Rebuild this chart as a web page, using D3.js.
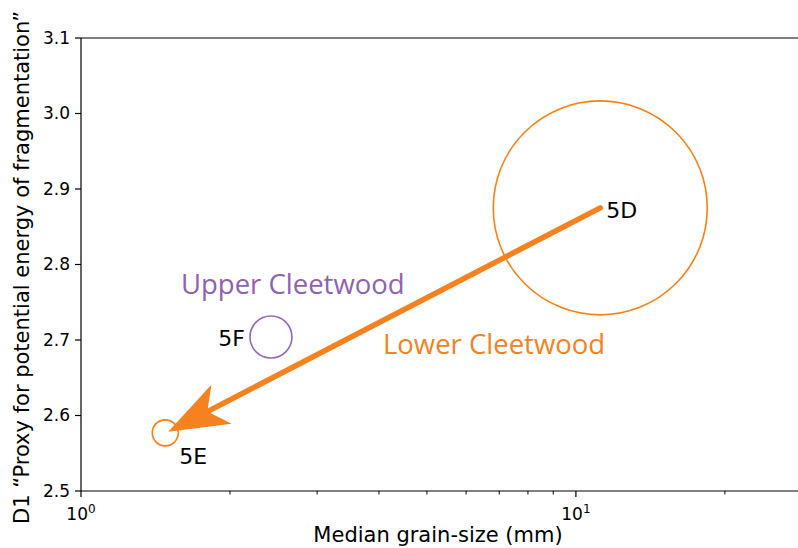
<!DOCTYPE html>
<html>
<head>
<meta charset="utf-8">
<script src="https://cdn.jsdelivr.net/npm/d3@7"></script>
<style>
  body { margin: 0; background: #fff; }
  svg { display: block; font-family: "DejaVu Sans", sans-serif; }
</style>
</head>
<body>
<svg id="chart" width="798" height="548"></svg>
<script>
// Samples: median grain size (mm), D1 value, marker size
const samples = ['5D', '5E', '5F'];
const grainSize = [11.2, 1.48, 2.42];
const d1 = [2.875, 2.577, 2.704];
const markerSize = [11450, 170, 440];
const sampleUnit = ['Lower', 'Lower', 'Upper'];
const yTicks = [2.5, 2.6, 2.7, 2.8, 2.9, 3.0, 3.1];
const xMajor = [1, 10];
const xMinor = [2, 3, 4, 5, 6, 7, 8, 9, 20];
const unitLabels = [
  {name: 'Upper Cleetwood', unit: 'Upper'},
  {name: 'Lower Cleetwood', unit: 'Lower'}
];

const colors = {Upper: '#9467bd', Lower: '#ff7f0e'};
const textColors = {Upper: '#8f62b3', Lower: '#f58220'};

(function() {
  const svg = d3.select('#chart');
  const margin = {top: 38, left: 81};
  const width = 720, height = 453;
  const g = svg.append('g').attr('transform', `translate(${margin.left},${margin.top})`);

  const x = d3.scaleLog().domain([1, 28.5]).range([0, width]);
  const y = d3.scaleLinear().domain([2.5, 3.1]).range([height, 0]);
  const r = d3.scaleSqrt().domain([0, d3.max(markerSize)]).range([0, 107]);

  const data = samples.map((s, i) => ({id: s, x: grainSize[i], y: d1[i], s: markerSize[i], unit: sampleUnit[i]}));

  // spines
  g.append('line').attr('x1', 0).attr('x2', width).attr('y1', 0).attr('y2', 0).attr('stroke', '#000').attr('stroke-width', 1.2);
  g.append('line').attr('x1', width).attr('x2', width).attr('y1', 0).attr('y2', height).attr('stroke', '#000').attr('stroke-width', 1.2);

  // y axis
  const ya = g.append('g');
  ya.append('line').attr('x1', 0).attr('x2', 0).attr('y1', 0).attr('y2', height).attr('stroke', '#000').attr('stroke-width', 1.2);
  yTicks.forEach(t => {
    ya.append('line').attr('x1', -6).attr('x2', 0).attr('y1', y(t)).attr('y2', y(t)).attr('stroke', '#000').attr('stroke-width', 1.2);
    ya.append('text').attr('x', -11).attr('y', y(t)).attr('dy', '0.35em').attr('text-anchor', 'end')
      .attr('font-size', 17).text(t.toFixed(1));
  });

  // x axis
  const xa = g.append('g').attr('transform', `translate(0,${height})`);
  xa.append('line').attr('x1', 0).attr('x2', width).attr('stroke', '#000').attr('stroke-width', 1.2);
  xMajor.forEach(t => {
    xa.append('line').attr('x1', x(t)).attr('x2', x(t)).attr('y1', 0).attr('y2', 6).attr('stroke', '#000').attr('stroke-width', 1.2);
    const tx = xa.append('text').attr('x', x(t)).attr('y', 29).attr('text-anchor', 'middle').attr('font-size', 17);
    tx.append('tspan').text('10');
    tx.append('tspan').attr('dy', -7).attr('font-size', 12).text(Math.round(Math.log10(t)));
  });
  xMinor.forEach(t => {
    xa.append('line').attr('x1', x(t)).attr('x2', x(t)).attr('y1', 0).attr('y2', 3.5).attr('stroke', '#000').attr('stroke-width', 1);
  });

  // axis titles
  svg.append('text').attr('x', margin.left + width / 2 - 3).attr('y', 542)
    .attr('text-anchor', 'middle').attr('font-size', 21).text('Median grain-size (mm)');
  svg.append('text').attr('transform', `translate(29,${margin.top + height / 2 + 3}) rotate(-90)`)
    .attr('text-anchor', 'middle').attr('font-size', 21).text('D1 \u201cProxy for potential energy of fragmentation\u201d');

  // circles
  g.selectAll('circle.pt').data(data).enter().append('circle').attr('class', 'pt')
    .attr('cx', d => x(d.x)).attr('cy', d => y(d.y)).attr('r', d => r(d.s))
    .attr('fill', 'none').attr('stroke', d => colors[d.unit]).attr('stroke-width', 1.6);

  // arrow from 5D to 5E
  const a = data[0], b = data[1];
  const x0 = x(a.x), y0 = y(a.y), x1 = x(b.x) + 3, y1 = y(b.y) - 1;
  const ang = Math.atan2(y1 - y0, x1 - x0);
  const headLen = 60, headW = 22, notch = 44;
  g.append('line').attr('x1', x0).attr('y1', y0)
    .attr('x2', x1 - Math.cos(ang) * notch).attr('y2', y1 - Math.sin(ang) * notch)
    .attr('stroke', '#f5821f').attr('stroke-width', 5.5).attr('stroke-linecap', 'round');
  g.append('path').attr('fill', '#f5821f')
    .attr('transform', `translate(${x1},${y1}) rotate(${ang * 180 / Math.PI})`)
    .attr('d', `M0,0 L${-headLen},${-headW} L${-notch},0 L${-headLen},${headW} Z`);

  // sample labels
  const lab = g.append('g').attr('font-size', 22).attr('fill', '#000');
  lab.append('text').attr('x', x(a.x) + 6).attr('y', y(a.y) + 10).text(a.id);
  lab.append('text').attr('x', x(b.x) + 14).attr('y', y(b.y) + 31).text(b.id);
  const c = data[2];
  lab.append('text').attr('x', x(c.x) - 26).attr('y', y(c.y) + 9).attr('text-anchor', 'end').text(c.id);

  // unit labels
  const ul = g.selectAll('text.unit').data(unitLabels).enter().append('text').attr('class', 'unit')
    .attr('font-family', '"Open Sans", sans-serif').attr('font-size', 27.5)
    .attr('fill', d => textColors[d.unit])
    .text(d => d.name);
  ul.filter(d => d.unit === 'Upper').attr('x', x(c.x) - 90).attr('y', y(c.y) - 43);
  ul.filter(d => d.unit === 'Lower').attr('x', x(c.x) + 112).attr('y', y(c.y) + 17);
})();
</script>
</body>
</html>
